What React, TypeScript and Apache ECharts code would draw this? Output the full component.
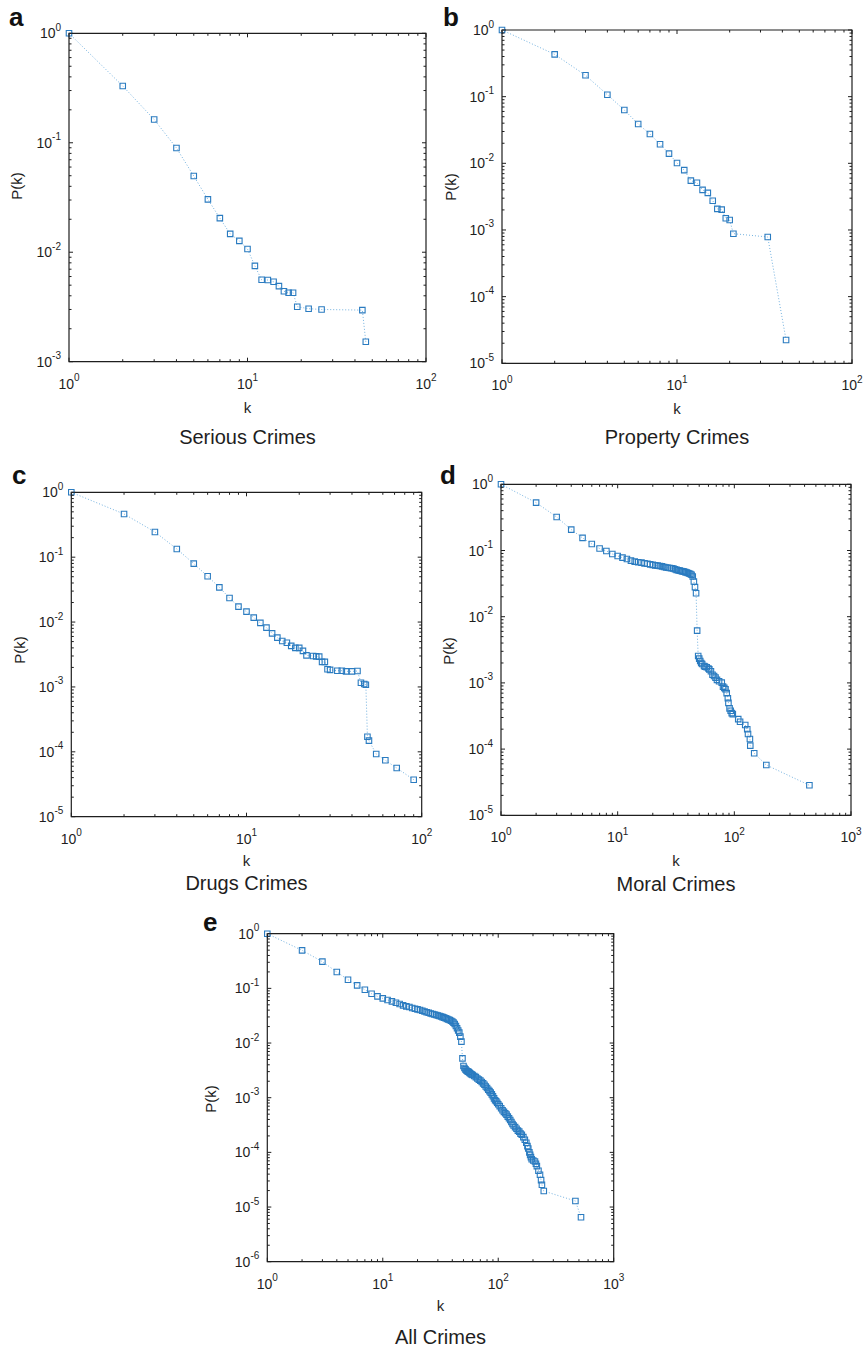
import React, { useEffect, useRef } from "react";
import * as echarts from "echarts";

// ---------- data ----------
const SERIOUS_K = [1, 2, 3, 4, 5, 6, 7, 8, 9, 10, 11, 12, 13, 14, 15, 16, 17, 18, 19, 22, 26, 44, 46];
const SERIOUS_P = [1.0, 0.33, 0.163, 0.0895, 0.0497, 0.0304, 0.0205, 0.0147, 0.0127, 0.0107, 0.0075, 0.0056, 0.00557, 0.00537, 0.0049, 0.0044, 0.00427, 0.00427, 0.00318, 0.00305, 0.003, 0.00296, 0.00152];

const PROPERTY_K = [1, 2, 3, 4, 5, 6, 7, 8, 9, 10, 11, 12, 13, 14, 15, 16, 17, 18, 19, 20, 21, 33, 42];
const PROPERTY_P = [1.0, 0.431, 0.209, 0.107, 0.063, 0.0389, 0.0275, 0.0193, 0.014, 0.0101, 0.0079, 0.0055, 0.0051, 0.004, 0.0036, 0.00275, 0.00207, 0.00202, 0.0015, 0.00141, 0.00088, 0.000785, 2.24e-5];

const DRUGS_K = [1, 2, 3, 4, 5, 6, 7, 8, 9, 10, 11, 12, 13, 14, 15, 16, 17, 18, 19, 20, 21, 22, 24, 25, 26, 27, 28, 29, 30, 33, 35, 37, 40, 43, 45, 47, 48, 49, 50, 55, 62, 72, 90];
const DRUGS_P = [1.0, 0.463, 0.245, 0.134, 0.0795, 0.0507, 0.0343, 0.0235, 0.0173, 0.0145, 0.0117, 0.0097, 0.0082, 0.0067, 0.00575, 0.0051, 0.0048, 0.0043, 0.004, 0.004, 0.0036, 0.00307, 0.003, 0.00296, 0.00293, 0.00243, 0.00243, 0.00187, 0.00183, 0.00178, 0.00178, 0.00174, 0.00174, 0.00176, 0.00116, 0.00111, 0.00108, 0.000171, 0.000149, 9.25e-5, 7.4e-5, 5.63e-5, 3.72e-5];

const MORAL_K = [1, 2, 3, 4, 5, 6, 7, 8, 9, 10, 11, 12, 13, 14, 15, 16, 17, 18, 19, 20, 21, 22, 23, 24, 25, 26, 27, 28, 29, 30, 31, 32, 33, 34, 35, 36, 37, 38, 39, 40, 41, 42, 43, 44, 45, 46, 47, 48, 49, 50, 51, 52, 53, 55, 56, 58, 60, 61, 63, 65, 67, 69, 71, 74, 78, 80, 82, 84, 86, 88, 89, 91, 93, 95, 97, 108, 112, 124, 129, 131, 136, 137, 148, 188, 440];
const MORAL_P = [1, 0.528, 0.321, 0.207, 0.155, 0.1255, 0.107, 0.0984, 0.0887, 0.0827, 0.078, 0.0745, 0.0703, 0.0679, 0.0664, 0.0656, 0.064, 0.063, 0.0618, 0.0607, 0.0597, 0.059, 0.0584, 0.0575, 0.0562, 0.0555, 0.055, 0.0545, 0.054, 0.0535, 0.052, 0.051, 0.0502, 0.0497, 0.049, 0.0484, 0.048, 0.0472, 0.0465, 0.0457, 0.045, 0.0442, 0.0431, 0.0405, 0.034, 0.028, 0.0226, 0.00616, 0.00255, 0.00233, 0.00214, 0.002, 0.00193, 0.0018, 0.00176, 0.00172, 0.00165, 0.0016, 0.0015, 0.00133, 0.00127, 0.0012, 0.00111, 0.00106, 0.00101, 0.00088, 0.00084, 0.0008, 0.0007, 0.000585, 0.0005, 0.000412, 0.000379, 0.00035, 0.000338, 0.000284, 0.000259, 0.000231, 0.000199, 0.000169, 0.000142, 0.000113, 8.65e-5, 5.75e-5, 2.84e-5];

const ALL_K = [1, 2, 3, 4, 5, 6, 7, 8, 9, 10, 11, 12, 13, 14, 15, 16, 17, 18, 19, 20, 21, 22, 23, 24, 25, 26, 27, 28, 29, 30, 31, 32, 33, 34, 35, 36, 37, 38, 39, 40, 41, 42, 43, 44, 45, 46, 47, 48, 49, 50, 51, 52, 53, 54, 55, 56, 57, 58, 59, 60, 62, 64, 66, 68, 70, 72, 74, 76, 78, 80, 82, 84, 86, 88, 90, 92, 94, 96, 98, 100, 103, 106, 109, 112, 115, 118, 121, 124, 127, 130, 133, 136, 140, 144, 148, 152, 156, 160, 165, 170, 175, 179, 182, 186, 189, 192, 195, 201, 208, 212, 216, 223, 230, 235, 239, 248, 466, 521];
const ALL_P = [1, 0.496, 0.308, 0.199, 0.144, 0.1135, 0.0946, 0.0798, 0.0714, 0.0656, 0.0612, 0.0578, 0.0547, 0.0517, 0.0489, 0.0469, 0.0455, 0.0437, 0.0425, 0.0412, 0.0401, 0.039, 0.0378, 0.0366, 0.0357, 0.0348, 0.034, 0.0333, 0.0325, 0.0318, 0.0312, 0.0305, 0.0298, 0.0291, 0.0284, 0.0277, 0.027, 0.0264, 0.0256, 0.0248, 0.0236, 0.0223, 0.0205, 0.0186, 0.017, 0.0155, 0.0131, 0.0106, 0.00525, 0.0038, 0.0035, 0.0033, 0.00315, 0.00305, 0.003, 0.0029, 0.0028, 0.00272, 0.00266, 0.0026, 0.0025, 0.00238, 0.00225, 0.00214, 0.00205, 0.00194, 0.00183, 0.00172, 0.0016, 0.0015, 0.0014, 0.00132, 0.00124, 0.00115, 0.00106, 0.00097, 0.0009, 0.00086, 0.00081, 0.00076, 0.0007, 0.00064, 0.00059, 0.00055, 0.00052, 0.00049, 0.00045, 0.00042, 0.00039, 0.00036, 0.00033, 0.00031, 0.00029, 0.00027, 0.00025, 0.00024, 0.00022, 0.00021, 0.00019, 0.00017, 0.00015, 0.00013, 0.000118, 0.0001, 9.0e-5, 8.2e-5, 7.5e-5, 7.1e-5, 6.8e-5, 6.2e-5, 5.6e-5, 4.6e-5, 3.9e-5, 3.1e-5, 2.55e-5, 1.96e-5, 1.29e-5, 6.5e-6];

const TITLES = ["Serious Crimes", "Property Crimes", "Drugs Crimes", "Moral Crimes", "All Crimes"];
const LETTERS = ["a", "b", "c", "d", "e"];
const X_NAME = "k";
const Y_NAME = "P(k)";

// ---------- styling / layout ----------
const FONT = "'Liberation Sans', Arial, Helvetica, sans-serif";
const INK = "#1e1e1e";
const MARK = "#2a7bc0";
const LINE = "#74b2e0";

const PANELS = [
  { k: SERIOUS_K, p: SERIOUS_P, left: 69, top: 33.3, width: 357, height: 328.4, xMaxExp: 2, yMinExp: -3, letterX: 9, letterBase: 25, titleY: 437, kY: 407, pX: 16.5, pY: 186 },
  { k: PROPERTY_K, p: PROPERTY_P, left: 502, top: 30, width: 350, height: 333.3, xMaxExp: 2, yMinExp: -5, letterX: 443, letterBase: 25, titleY: 437, kY: 408, pX: 450, pY: 187 },
  { k: DRUGS_K, p: DRUGS_P, left: 71.3, top: 492.3, width: 350.4, height: 324.4, xMaxExp: 2, yMinExp: -5, letterX: 12, letterBase: 483, titleY: 883, kY: 860, pX: 19.5, pY: 650 },
  { k: MORAL_K, p: MORAL_P, left: 501, top: 484.3, width: 350, height: 331, xMaxExp: 3, yMinExp: -5, letterX: 440, letterBase: 483, titleY: 884, kY: 860, pX: 448.5, pY: 651 },
  { k: ALL_K, p: ALL_P, left: 267.3, top: 933.7, width: 346.4, height: 328, xMaxExp: 3, yMinExp: -6, letterX: 203, letterBase: 930, titleY: 1337, kY: 1305, pX: 210.5, pY: 1099 },
];

const powLabel = (v: number) => {
  const e = Math.round(Math.log10(v));
  return `{b|10}{s|${e}}`;
};

const rich = {
  b: { fontSize: 14, lineHeight: 14, fontFamily: FONT, color: INK, verticalAlign: "bottom" },
  s: { fontSize: 10, lineHeight: 10, padding: [0, 0, 8, 0], fontFamily: FONT, color: INK, verticalAlign: "bottom" },
};

function buildOption() {
  const grid: any[] = [];
  const xAxis: any[] = [];
  const yAxis: any[] = [];
  const series: any[] = [];
  const graphic: any[] = [];

  PANELS.forEach((pn, i) => {
    const xMin = 1;
    const xMax = Math.pow(10, pn.xMaxExp);
    const yMin = Math.pow(10, pn.yMinExp);
    const yMax = 1;

    grid.push({
      left: pn.left,
      top: pn.top,
      width: pn.width,
      height: pn.height,
      show: true,
      borderColor: INK,
      borderWidth: 1.2,
      backgroundColor: "transparent",
    });
    xAxis.push({
      type: "log",
      logBase: 10,
      gridIndex: i,
      min: xMin,
      max: xMax,
      splitNumber: pn.xMaxExp,
      axisLine: { show: false },
      axisTick: { show: false },
      splitLine: { show: false },
      axisLabel: { formatter: powLabel, rich, margin: 15, showMinLabel: true, showMaxLabel: true },
    });
    yAxis.push({
      type: "log",
      logBase: 10,
      gridIndex: i,
      min: yMin,
      max: yMax,
      splitNumber: -pn.yMinExp,
      axisLine: { show: false },
      axisTick: { show: false },
      splitLine: { show: false },
      axisLabel: { formatter: powLabel, rich, margin: 8, showMinLabel: true, showMaxLabel: true },
    });

    // tick marks (major + minor on all four sides)
    const ticks: number[][] = [];
    for (let e = 0; e < pn.xMaxExp; e++) {
      for (let m = 1; m <= 9; m++) ticks.push([m * Math.pow(10, e), yMin, 0, m === 1 ? 1 : 0]);
    }
    ticks.push([xMax, yMin, 0, 1]);
    for (let e = pn.yMinExp; e < 0; e++) {
      for (let m = 1; m <= 9; m++) ticks.push([xMin, m * Math.pow(10, e), 1, m === 1 ? 1 : 0]);
    }
    ticks.push([xMin, yMax, 1, 1]);

    series.push({
      type: "custom",
      xAxisIndex: i,
      yAxisIndex: i,
      silent: true,
      z: 5,
      clip: false,
      data: ticks,
      renderItem: (params: any, api: any) => {
        const v0 = api.value(0);
        const v1 = api.value(1);
        const kind = api.value(2);
        const major = api.value(3);
        const len = major ? 4 : 2.5;
        const style = { stroke: INK, lineWidth: 1 };
        if (kind === 0) {
          const b = api.coord([v0, yMin]);
          const t = api.coord([v0, yMax]);
          return {
            type: "group",
            children: [
              { type: "line", shape: { x1: b[0], y1: b[1], x2: b[0], y2: b[1] - len }, style },
              { type: "line", shape: { x1: t[0], y1: t[1], x2: t[0], y2: t[1] + len }, style },
            ],
          };
        }
        const l = api.coord([xMin, v1]);
        const r = api.coord([xMax, v1]);
        return {
          type: "group",
          children: [
            { type: "line", shape: { x1: l[0], y1: l[1], x2: l[0] + len, y2: l[1] }, style },
            { type: "line", shape: { x1: r[0], y1: r[1], x2: r[0] - len, y2: r[1] }, style },
          ],
        };
      },
    });

    series.push({
      type: "line",
      name: TITLES[i],
      xAxisIndex: i,
      yAxisIndex: i,
      data: pn.k.map((k, j) => [k, pn.p[j]]),
      clip: false,
      z: 3,
      symbol: "rect",
      symbolSize: 5.5,
      showAllSymbol: true,
      itemStyle: { color: "rgba(255,255,255,0)", borderColor: MARK, borderWidth: 1.1 },
      lineStyle: { color: LINE, width: 1, type: [1, 2] },
      emphasis: { disabled: true },
    });

    const cx = pn.left + pn.width / 2;
    graphic.push({
      type: "text",
      x: cx,
      y: pn.titleY,
      style: { text: TITLES[i], fontSize: 20, fontFamily: FONT, fill: INK, align: "center", verticalAlign: "middle" },
    });
    graphic.push({
      type: "text",
      x: cx,
      y: pn.kY,
      style: { text: X_NAME, fontSize: 15, fontFamily: FONT, fill: INK, align: "center", verticalAlign: "middle" },
    });
    graphic.push({
      type: "text",
      x: pn.pX,
      y: pn.pY,
      rotation: Math.PI / 2,
      style: { text: Y_NAME, fontSize: 15, fontFamily: FONT, fill: INK, align: "center", verticalAlign: "middle" },
    });
    graphic.push({
      type: "text",
      x: pn.letterX,
      y: pn.letterBase - 8.5,
      style: { text: LETTERS[i], fontSize: 26, fontWeight: "bold", fontFamily: FONT, fill: "#111", align: "left", verticalAlign: "middle" },
    });
  });

  return {
    animation: false,
    backgroundColor: "#ffffff",
    textStyle: { fontFamily: FONT },
    grid,
    xAxis,
    yAxis,
    series,
    graphic,
  };
}

export default function App() {
  const ref = useRef<HTMLDivElement>(null);
  useEffect(() => {
    document.body.style.margin = "0";
    if (!ref.current) return;
    const chart = echarts.init(ref.current, undefined, { renderer: "svg" });
    chart.setOption(buildOption() as any);
    return () => chart.dispose();
  }, []);
  return <div ref={ref} style={{ width: 866, height: 1350 }} />;
}
